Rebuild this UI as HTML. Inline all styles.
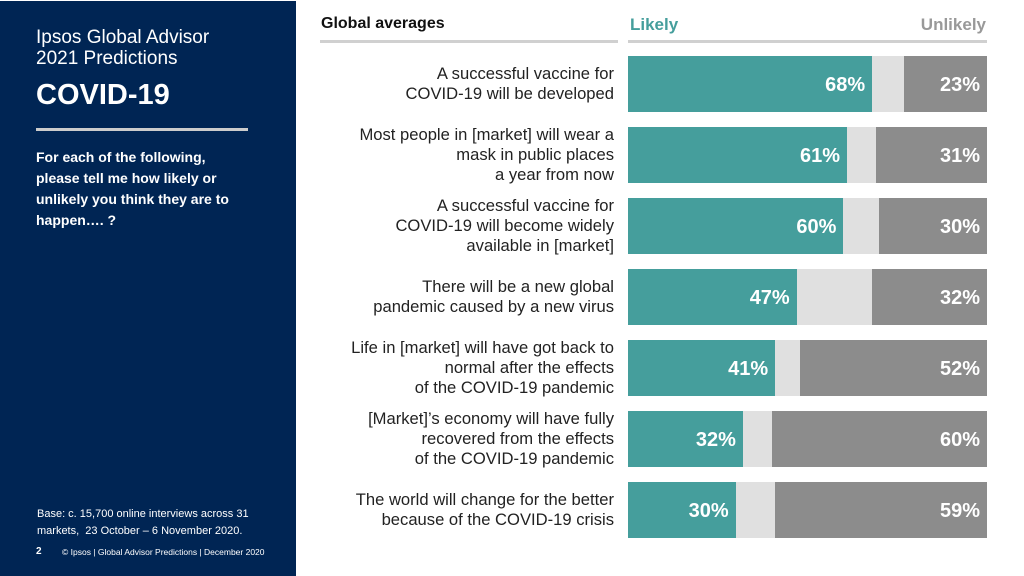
<!DOCTYPE html>
<html><head><meta charset="utf-8"><style>
body{margin:0;width:1024px;height:576px;background:#fff;font-family:"Liberation Sans",sans-serif;position:relative;overflow:hidden}
#panel{position:absolute;left:0;top:1px;width:296px;height:575px;background:#002554;color:#fff}
.t{position:absolute;white-space:nowrap}
.lab{position:absolute;right:410px;text-align:right;font-size:16.6px;line-height:20px;color:#222;white-space:nowrap}
</style></head><body>
<div id="panel">
<div class="t" style="left:36px;top:26px;font-size:19px;line-height:21px">Ipsos Global Advisor<br>2021 Predictions</div>
<div class="t" style="left:36px;top:78px;font-size:29px;font-weight:bold">COVID-19</div>
<div style="position:absolute;left:36px;top:127px;width:212px;height:3px;background:#ccc"></div>
<div class="t" style="left:36px;top:146px;font-size:14px;font-weight:bold;line-height:21px">For each of the following,<br>please tell me how likely or<br>unlikely you think they are to<br>happen…. ?</div>
<div class="t" style="left:37px;top:505px;font-size:11px;line-height:17px">Base: c. 15,700 online interviews across 31<br>markets,&nbsp; 23 October – 6 November 2020.</div>
<div class="t" style="left:36px;top:545px;font-size:10px;font-weight:bold">2</div>
<div class="t" style="left:62px;top:546px;font-size:8.5px">© Ipsos | Global Advisor Predictions | December 2020</div>
</div>
<div class="t" style="left:321px;top:15px;font-size:16px;font-weight:bold;color:#111">Global averages</div>
<div style="position:absolute;left:320px;top:40px;width:298px;height:3px;background:#d0d0d0"></div>
<div class="t" style="left:630px;top:15px;font-size:17px;font-weight:bold;color:#459e9c">Likely</div>
<div class="t" style="right:38px;top:15px;font-size:17px;font-weight:bold;color:#999">Unlikely</div>
<div style="position:absolute;left:628px;top:40px;width:359px;height:3px;background:#d0d0d0"></div>
<div id="chart"></div>
<script>
const categories=["A successful vaccine for<br>COVID-19 will be developed","Most people in [market] will wear a<br>mask in public places<br>a year from now","A successful vaccine for<br>COVID-19 will become widely<br>available in [market]","There will be a new global<br>pandemic caused by a new virus","Life in [market] will have got back to<br>normal after the effects<br>of the COVID-19 pandemic","[Market]’s economy will have fully<br>recovered from the effects<br>of the COVID-19 pandemic","The world will change for the better<br>because of the COVID-19 crisis"];
const likely=[68,61,60,47,41,32,30];
const unlikely=[23,31,30,32,52,60,59];
const X0=628,W=359,Y0=56,PITCH=71,H=56;
const x=v=>v/100*W;
const c=document.getElementById('chart');
categories.forEach((cat,i)=>{
 const y=Y0+i*PITCH;
 const row=document.createElement('div');
 
 
 row.style.cssText=`position:absolute;left:${X0}px;top:${y}px;width:${W}px;height:${H}px;background:#e0e0e0`;
 const l=document.createElement('div');
 
 
 l.style.cssText=`position:absolute;left:0;top:0;height:${H}px;width:${x(likely[i])}px;background:#459e9c;color:#fff;font-weight:bold;font-size:20px;line-height:${H+2}px;text-align:right;box-sizing:border-box;padding-right:7px`;
 l.textContent=likely[i]+'%';
 const u=document.createElement('div');
 
 
 u.style.cssText=`position:absolute;right:0;top:0;height:${H}px;width:${x(unlikely[i])}px;background:#8c8c8c;color:#fff;font-weight:bold;font-size:20px;line-height:${H+2}px;text-align:right;box-sizing:border-box;padding-right:7px`;
 u.textContent=unlikely[i]+'%';
 row.appendChild(l);row.appendChild(u);c.appendChild(row);
 const lab=document.createElement('div');
 
 
 lab.className='lab';
 lab.innerHTML=cat;
 const n=cat.split('<br>').length;
 lab.style.top=(y+H/2-n*10)+'px';
 c.appendChild(lab);
});
</script>
</body></html>
